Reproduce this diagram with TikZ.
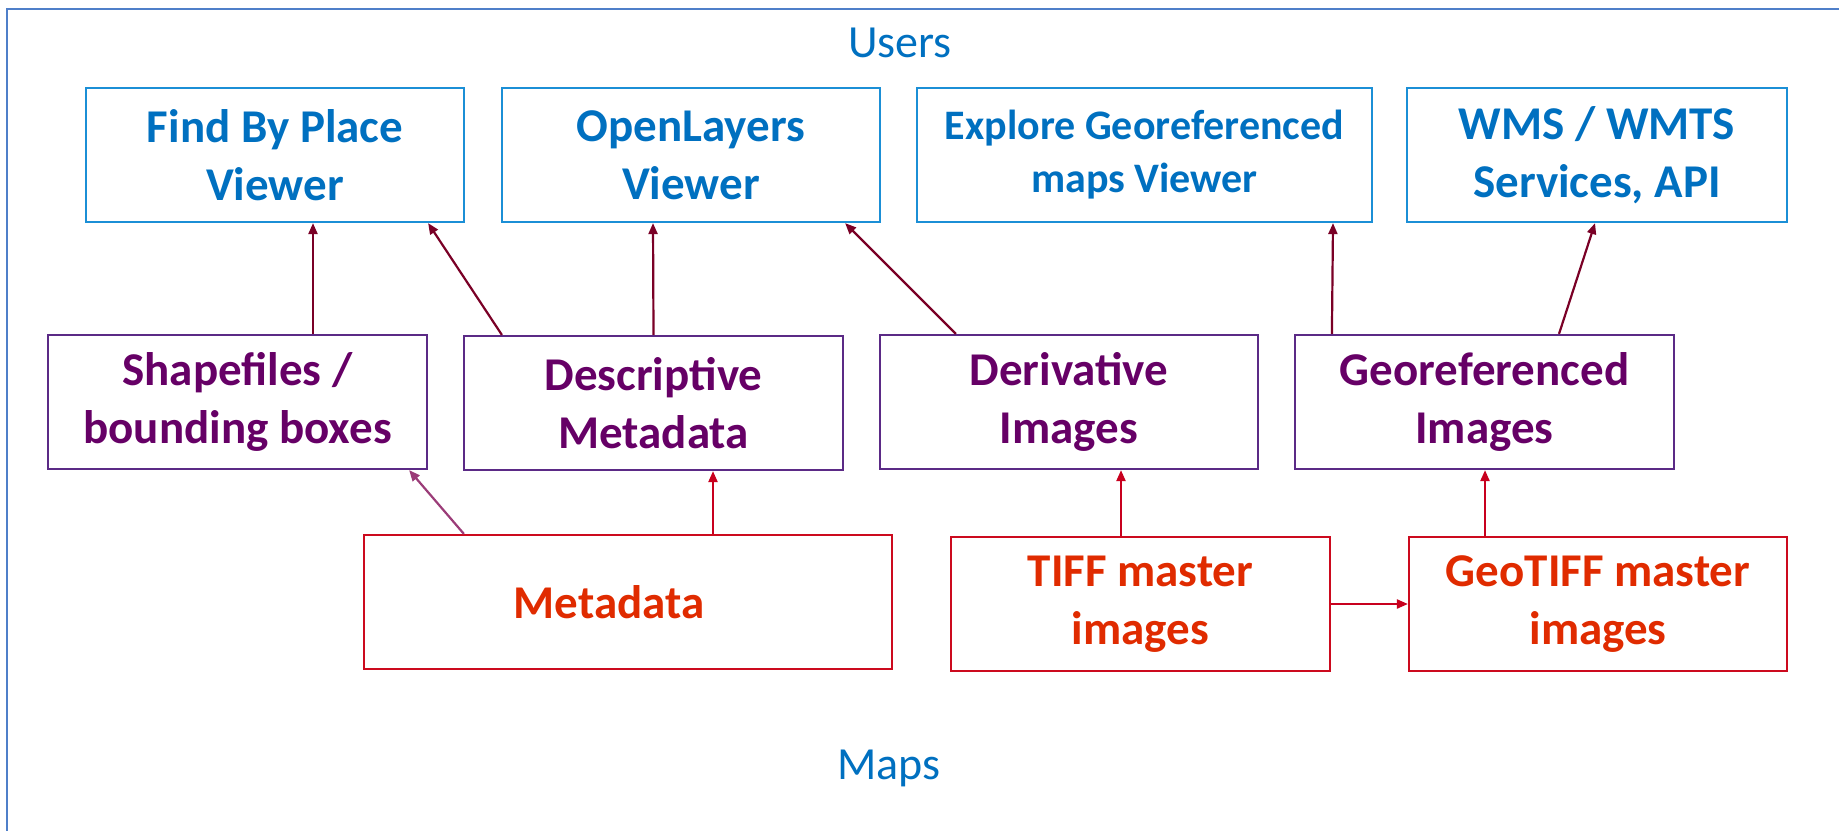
\documentclass[tikz,border=0pt]{standalone}
\usepackage{fontspec}
\setmainfont{Carlito}
\usetikzlibrary{arrows.meta,calc}
\definecolor{bluetx}{HTML}{0070C0}
\definecolor{bluebd}{HTML}{1B8FD6}
\definecolor{purptx}{HTML}{660066}
\definecolor{purpbd}{HTML}{5B2A86}
\definecolor{redtx}{HTML}{E02B00}
\definecolor{redbd}{HTML}{CC0A1E}
\definecolor{maroonar}{HTML}{7A0026}
\definecolor{redar}{HTML}{C8001E}
\definecolor{pinkar}{HTML}{9B3C78}
\definecolor{framec}{HTML}{4F7FC9}
\begin{document}
\begin{tikzpicture}[x=0.5pt,y=-0.5pt,
  box/.style={draw, line width=1.1pt, rectangle, align=center, inner sep=0pt, minimum height=67pt},
  bluebox/.style={box, draw=bluebd, text=bluetx, font=\fontsize{23.5}{29}\selectfont\bfseries},
  purpbox/.style={box, draw=purpbd, text=purptx, font=\fontsize{23.5}{29}\selectfont\bfseries},
  redbox/.style={box, draw=redbd, text=redtx, font=\fontsize{23.5}{29}\selectfont\bfseries},
  arr/.style={line width=1.1pt, -{Triangle[length=5.5pt,width=4.5pt]}},
  lbl/.style={anchor=base, text=bluetx, font=\fontsize{23}{28}\selectfont, inner sep=0pt}
]
\useasboundingbox (0,0) rectangle (1839,830);
\clip (0,0) rectangle (1839,830);
\draw[framec, line width=1.3pt] (7,900) -- (7,9) -- (1900,9);

\node[lbl] (users) at (900,57) {Users};
\node[lbl] (maps) at (889,779) {Maps};

% row 1
\node[bluebox, minimum width=189pt] (find) at (275,155) {Find By Place\\Viewer};
\node[bluebox, minimum width=189pt] (ol) at (691,155) {OpenLayers\\Viewer};
\node[bluebox, minimum width=227.5pt, font=\fontsize{21}{26.5}\selectfont\bfseries] (explore) at (1144.5,155) {Explore Georeferenced\\maps Viewer};
\node[bluebox, minimum width=190pt] (wms) at (1597,155) {WMS / WMTS\\Services, API};

% row 2
\node[purpbox, minimum width=189.5pt] (shape) at (237.5,402) {Shapefiles /\\bounding boxes};
\node[purpbox, minimum width=189.5pt] (desc) at (653.5,403) {Descriptive\\Metadata};
\node[purpbox, minimum width=189pt] (deriv) at (1069,402) {Derivative\\Images};
\node[purpbox, minimum width=189.5pt] (georef) at (1484.5,402) {Georeferenced\\Images};

% row 3
\node[redbox, minimum width=264pt] (meta) at (628,602) {Metadata\hspace*{19pt}};
\node[redbox, minimum width=189.5pt] (tiff) at (1140.5,604) {TIFF master\\images};
\node[redbox, minimum width=189pt] (geotiff) at (1598,604) {GeoTIFF master\\images};

% arrows
\draw[arr, maroonar] ($(shape.north)+(75.5,0)$) -- ($(find.south)+(38,0)$);
\draw[arr, maroonar] ($(desc.north west)+(39,0)$) -- ($(find.south east)+(-37,0)$);
\draw[arr, maroonar] ($(desc.north)+(0,0)$) -- ($(ol.south)+(-38,0)$);
\draw[arr, maroonar] ($(deriv.north west)+(77,0)$) -- ($(ol.south east)+(-36,0)$);
\draw[arr, maroonar] ($(georef.north west)+(38,0)$) -- ($(explore.south)+(188.5,0)$);
\draw[arr, maroonar] ($(georef.north)+(74.5,0)$) -- ($(wms.south)+(-2,0)$);

\draw[arr, pinkar] ($(meta.north west)+(101,0)$) -- ($(shape.south east)+(-19,0)$);
\draw[arr, redar] ($(meta.north)+(85,0)$) -- ($(desc.south)+(59.5,0)$);
\draw[arr, redar] ($(tiff.north)+(-19.5,0)$) -- ($(deriv.south)+(52,0)$);
\draw[arr, redar] ($(geotiff.north)+(-113,0)$) -- ($(georef.south)+(0.5,0)$);
\draw[arr, redar] (tiff.east) -- (geotiff.west);
\end{tikzpicture}
\end{document}
